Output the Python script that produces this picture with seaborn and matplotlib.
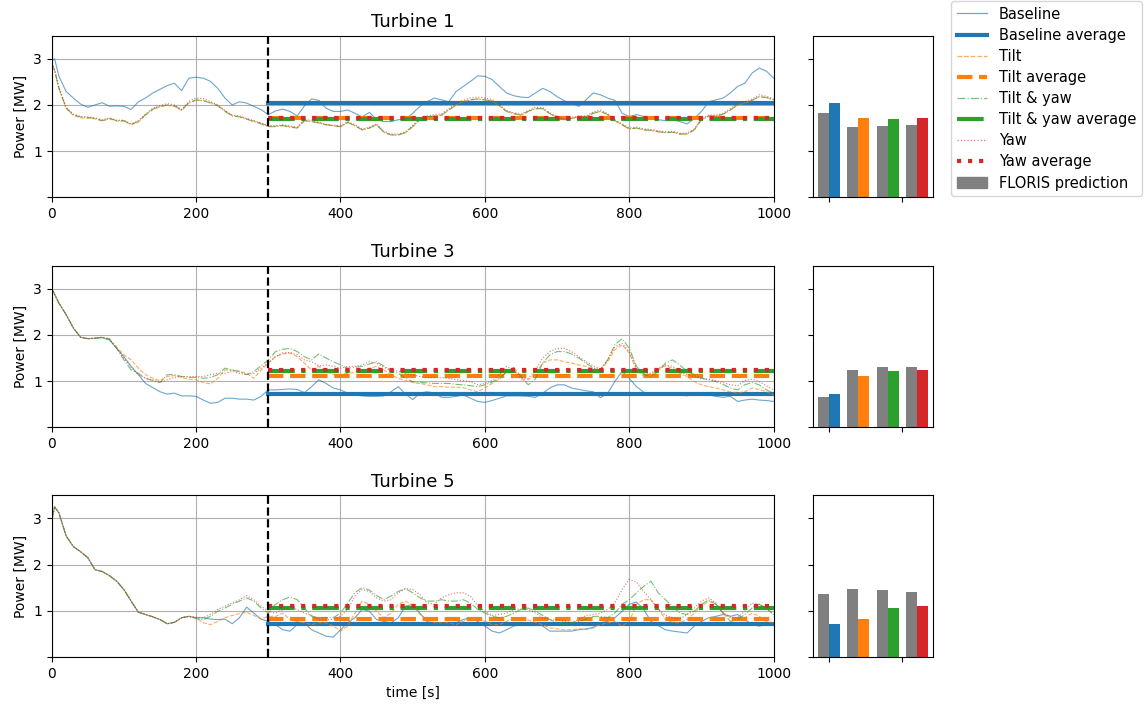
import matplotlib
matplotlib.use("Agg")
import matplotlib.pyplot as plt
import seaborn as sns
from matplotlib.lines import Line2D
from matplotlib.patches import Patch

# ---------------- data ----------------
TIME = [0, 4] + list(range(10, 1001, 10))
CONTROL_START = 300

CASES = ["Baseline", "Tilt", "Tilt & yaw", "Yaw"]
TURBINES = ["Turbine 1", "Turbine 3", "Turbine 5"]

t1_baseline = [2.95, 3.0, 2.62, 2.29, 2.15, 2.02, 1.95, 2.0, 2.05, 1.97, 1.98, 1.97,
               1.9, 2.07, 2.15, 2.26, 2.34, 2.42, 2.47, 2.31, 2.58, 2.6,
               2.58, 2.51, 2.36, 2.15, 2.0, 2.07, 2.04, 1.97, 1.9, 1.79,
               1.87, 1.91, 1.86, 1.76, 1.98, 2.13, 2.1, 1.93, 1.86, 1.86,
               1.89, 1.82, 1.74, 1.84, 1.68, 1.64, 1.64, 1.68, 1.69, 1.82,
               1.97, 2.07, 2.15, 2.11, 2.07, 2.29, 2.4, 2.51, 2.63, 2.62,
               2.55, 2.4, 2.26, 2.2, 2.17, 2.16, 2.26, 2.36, 2.29, 2.18,
               2.09, 2.04, 1.97, 2.11, 2.26, 2.22, 2.15, 2.1, 1.82, 1.75,
               1.79, 1.75, 1.71, 1.68, 1.66, 1.68, 1.64, 1.59, 1.71, 1.86,
               2.07, 2.11, 2.15, 2.26, 2.4, 2.47, 2.69, 2.8, 2.73, 2.58]
t1_tilt = [2.9, 2.75, 2.36, 1.93, 1.77, 1.72, 1.71, 1.7, 1.65, 1.7, 1.65, 1.65,
           1.57, 1.63, 1.78, 1.9, 1.96, 1.99, 1.97, 1.88, 2.04, 2.1,
           2.1, 2.05, 1.99, 1.87, 1.77, 1.75, 1.7, 1.65, 1.6, 1.54,
           1.54, 1.56, 1.53, 1.5, 1.66, 1.64, 1.61, 1.57, 1.55, 1.53,
           1.62, 1.55, 1.46, 1.5, 1.57, 1.41, 1.35, 1.35, 1.4, 1.53,
           1.68, 1.74, 1.76, 1.78, 1.89, 2.0, 2.07, 2.11, 2.13, 2.11,
           2.09, 1.98, 1.86, 1.81, 1.78, 1.86, 1.92, 1.92, 1.81, 1.73,
           1.68, 1.71, 1.74, 1.74, 1.82, 1.86, 1.79, 1.66, 1.57, 1.48,
           1.5, 1.46, 1.45, 1.42, 1.4, 1.41, 1.37, 1.37, 1.46, 1.68,
           1.76, 1.76, 1.8, 1.89, 2.0, 2.04, 2.1, 2.18, 2.16, 2.11]
t1_tiltyaw = [2.9, 2.75, 2.36, 1.93, 1.79, 1.74, 1.73, 1.71, 1.66, 1.71, 1.66, 1.66,
              1.58, 1.64, 1.79, 1.91, 1.97, 2.0, 1.98, 1.89, 2.05, 2.11,
              2.09, 2.04, 1.98, 1.86, 1.76, 1.74, 1.69, 1.64, 1.59, 1.53,
              1.53, 1.55, 1.52, 1.5, 1.66, 1.64, 1.61, 1.57, 1.55, 1.53,
              1.62, 1.55, 1.46, 1.5, 1.57, 1.41, 1.35, 1.35, 1.4, 1.53,
              1.68, 1.74, 1.76, 1.78, 1.89, 2.0, 2.07, 2.11, 2.13, 2.11,
              2.09, 1.98, 1.86, 1.81, 1.78, 1.86, 1.92, 1.92, 1.81, 1.73,
              1.68, 1.71, 1.74, 1.74, 1.82, 1.86, 1.79, 1.66, 1.57, 1.48,
              1.5, 1.46, 1.45, 1.42, 1.4, 1.41, 1.37, 1.37, 1.46, 1.68,
              1.76, 1.76, 1.8, 1.89, 2.0, 2.04, 2.1, 2.18, 2.16, 2.11]
t1_yaw = [2.9, 2.76, 2.38, 1.95, 1.8, 1.75, 1.74, 1.72, 1.68, 1.72, 1.67, 1.67,
          1.59, 1.66, 1.8, 1.93, 1.99, 2.03, 2.0, 1.9, 2.08, 2.15,
          2.14, 2.07, 2.0, 1.88, 1.78, 1.76, 1.71, 1.66, 1.61, 1.55,
          1.55, 1.57, 1.54, 1.52, 1.68, 1.67, 1.63, 1.58, 1.56, 1.55,
          1.64, 1.57, 1.48, 1.52, 1.59, 1.43, 1.37, 1.37, 1.42, 1.56,
          1.7, 1.76, 1.79, 1.81, 1.92, 2.03, 2.1, 2.15, 2.17, 2.15,
          2.12, 2.01, 1.88, 1.83, 1.8, 1.88, 1.95, 1.94, 1.83, 1.75,
          1.7, 1.73, 1.76, 1.76, 1.85, 1.89, 1.81, 1.68, 1.59, 1.5,
          1.52, 1.48, 1.47, 1.44, 1.42, 1.43, 1.39, 1.39, 1.48, 1.7,
          1.78, 1.78, 1.82, 1.92, 2.03, 2.07, 2.13, 2.22, 2.19, 2.13]

t3_baseline = [3.0, 2.88, 2.69, 2.44, 2.15, 1.95, 1.92, 1.93, 1.94, 1.89, 1.71, 1.53,
               1.32, 1.14, 0.95, 0.86, 0.77, 0.72, 0.74, 0.68, 0.68, 0.67,
               0.59, 0.52, 0.54, 0.63, 0.63, 0.61, 0.61, 0.59, 0.67, 0.81,
               0.81, 0.82, 0.83, 0.82, 0.75, 0.88, 1.03, 0.95, 0.85, 0.81,
               0.74, 0.7, 0.68, 0.67, 0.67, 0.68, 0.77, 0.88, 0.72, 0.6,
               0.74, 0.77, 0.74, 0.65, 0.65, 0.67, 0.7, 0.63, 0.56, 0.54,
               0.58, 0.63, 0.68, 0.68, 0.68, 0.67, 0.65, 0.74, 0.85, 0.92,
               0.92, 0.85, 0.82, 0.79, 0.77, 0.64, 0.74, 0.99, 1.21, 1.06,
               0.88, 0.76, 0.72, 0.7, 0.72, 0.75, 0.72, 0.68, 0.72, 0.7,
               0.7, 0.67, 0.65, 0.67, 0.56, 0.59, 0.61, 0.59, 0.58, 0.56]
t3_tilt = [3.0, 2.88, 2.69, 2.44, 2.15, 1.95, 1.92, 1.93, 1.95, 1.9, 1.74, 1.57,
           1.46, 1.28, 1.14, 1.06, 1.01, 1.1, 1.12, 1.08, 1.04, 1.03,
           0.97, 0.94, 1.06, 1.24, 1.24, 1.21, 1.17, 1.06, 1.24, 1.39,
           1.53, 1.59, 1.61, 1.53, 1.39, 1.24, 1.32, 1.21, 1.14, 1.14,
           1.17, 1.19, 1.24, 1.28, 1.32, 1.24, 1.14, 1.06, 1.01, 0.97,
           0.95, 0.92, 0.88, 0.88, 0.87, 0.87, 0.86, 0.81, 0.77, 0.85,
           0.95, 1.04, 1.2, 1.24, 1.03, 1.03, 1.17, 1.39, 1.46, 1.46,
           1.42, 1.39, 1.35, 1.32, 1.26, 1.26, 1.42, 1.68, 1.79, 1.61,
           1.24, 1.1, 1.14, 1.26, 1.33, 1.28, 1.17, 1.1, 0.99, 0.92,
           0.88, 0.85, 0.81, 0.77, 0.74, 0.77, 0.85, 0.82, 0.77, 0.7]
t3_tiltyaw = [3.0, 2.88, 2.69, 2.44, 2.15, 1.95, 1.92, 1.93, 1.95, 1.92, 1.71, 1.46,
              1.24, 1.17, 1.06, 1.01, 0.97, 1.14, 1.14, 1.1, 1.08, 1.08,
              1.06, 1.08, 1.14, 1.28, 1.24, 1.21, 1.14, 1.21, 1.33, 1.46,
              1.64, 1.69, 1.71, 1.64, 1.53, 1.46, 1.59, 1.5, 1.42, 1.35,
              1.28, 1.3, 1.32, 1.37, 1.42, 1.33, 1.22, 1.17, 1.06, 0.99,
              0.97, 0.96, 0.95, 0.95, 0.95, 0.93, 0.92, 0.9, 0.88, 0.92,
              0.98, 1.06, 1.2, 1.3, 1.1, 0.92, 1.05, 1.39, 1.57, 1.64,
              1.64, 1.59, 1.5, 1.39, 1.28, 1.24, 1.46, 1.79, 1.92, 1.71,
              1.32, 1.14, 1.1, 1.21, 1.39, 1.46, 1.35, 1.21, 1.14, 1.06,
              1.03, 0.99, 0.93, 0.85, 0.81, 0.92, 0.97, 0.92, 0.81, 0.74]
t3_yaw = [3.0, 2.88, 2.69, 2.44, 2.15, 1.95, 1.92, 1.93, 1.95, 1.91, 1.71, 1.5,
          1.3, 1.14, 1.06, 1.03, 0.97, 1.03, 1.08, 1.1, 1.1, 1.1,
          1.1, 1.14, 1.17, 1.17, 1.21, 1.17, 1.14, 1.17, 1.28, 1.39,
          1.53, 1.61, 1.62, 1.57, 1.46, 1.42, 1.33, 1.35, 1.32, 1.28,
          1.32, 1.32, 1.35, 1.42, 1.39, 1.3, 1.24, 1.21, 1.17, 1.14,
          1.1, 1.08, 1.08, 1.08, 1.06, 1.03, 1.01, 0.99, 0.92, 0.95,
          1.01, 1.14, 1.32, 1.24, 1.06, 1.06, 1.24, 1.5, 1.64, 1.71,
          1.71, 1.64, 1.53, 1.42, 1.33, 1.26, 1.46, 1.74, 1.82, 1.64,
          1.28, 1.17, 1.17, 1.28, 1.35, 1.32, 1.21, 1.14, 1.1, 1.06,
          1.04, 1.01, 0.97, 0.92, 0.9, 1.01, 1.04, 0.99, 0.9, 0.81]

t5_baseline = [2.95, 3.25, 3.12, 2.62, 2.39, 2.28, 2.15, 1.89, 1.85, 1.76, 1.64, 1.46,
               1.21, 0.97, 0.92, 0.87, 0.81, 0.72, 0.75, 0.85, 0.88, 0.85,
               0.85, 0.82, 0.81, 0.82, 0.72, 0.85, 1.08, 0.95, 0.82, 0.77,
               0.7, 0.59, 0.56, 0.7, 0.74, 0.59, 0.52, 0.45, 0.43, 0.59,
               0.74, 0.85, 1.03, 0.99, 0.81, 0.77, 0.74, 0.85, 1.1, 1.14,
               0.95, 0.77, 0.7, 0.7, 0.68, 0.74, 0.81, 0.85, 0.77, 0.67,
               0.56, 0.52, 0.59, 0.67, 0.7, 0.72, 0.74, 0.67, 0.56, 0.56,
               0.56, 0.56, 0.59, 0.61, 0.63, 0.74, 0.77, 0.85, 0.99, 1.14,
               1.19, 1.03, 0.77, 0.68, 0.59, 0.56, 0.54, 0.52, 0.67, 0.77,
               0.85, 0.88, 0.92, 0.88, 0.92, 0.81, 0.7, 0.67, 0.7, 0.7]
t5_tilt = [2.95, 3.25, 3.12, 2.62, 2.39, 2.28, 2.15, 1.89, 1.85, 1.76, 1.64, 1.46,
           1.21, 0.97, 0.92, 0.87, 0.81, 0.72, 0.75, 0.85, 0.88, 0.85,
           0.74, 0.7, 0.77, 0.85, 0.9, 0.94, 0.97, 0.9, 0.82, 0.88,
           0.88, 0.95, 0.81, 0.77, 0.74, 0.7, 0.74, 0.74, 0.67, 0.56,
           0.67, 0.95, 1.21, 1.14, 0.99, 0.85, 0.95, 1.14, 1.21, 1.12,
           0.92, 0.81, 0.74, 0.74, 0.74, 0.7, 0.77, 0.85, 0.85, 0.77,
           0.7, 0.7, 0.77, 0.85, 0.85, 0.8, 0.75, 0.7, 0.63, 0.61,
           0.59, 0.59, 0.61, 0.59, 0.65, 0.7, 0.74, 0.77, 0.67, 0.77,
           1.14, 1.24, 1.24, 1.06, 0.81, 0.75, 0.74, 0.81, 0.95, 1.1,
           1.21, 1.14, 0.95, 0.88, 0.81, 0.85, 0.95, 0.88, 0.77, 0.74]
t5_tiltyaw = [2.95, 3.25, 3.12, 2.62, 2.39, 2.28, 2.15, 1.89, 1.85, 1.76, 1.64, 1.46,
              1.21, 0.97, 0.92, 0.87, 0.81, 0.72, 0.75, 0.85, 0.88, 0.83,
              0.81, 0.88, 0.99, 1.06, 1.14, 1.21, 1.28, 1.21, 1.06, 0.95,
              1.14, 1.24, 1.3, 1.24, 1.06, 0.88, 0.85, 0.85, 0.85, 0.95,
              1.17, 1.39, 1.5, 1.45, 1.33, 1.24, 1.32, 1.42, 1.48, 1.39,
              1.28, 1.21, 1.21, 1.24, 1.21, 1.21, 1.24, 1.17, 1.03, 0.95,
              0.88, 0.85, 0.88, 0.95, 1.03, 1.06, 0.99, 0.9, 0.81, 0.74,
              0.7, 0.74, 0.77, 0.82, 0.88, 0.88, 0.85, 0.95, 1.14, 1.24,
              1.39, 1.53, 1.64, 1.39, 1.24, 1.1, 0.95, 0.92, 0.99, 1.14,
              1.24, 1.14, 0.95, 0.77, 0.81, 0.92, 1.06, 1.14, 1.06, 0.92]
t5_yaw = [2.95, 3.25, 3.12, 2.62, 2.39, 2.28, 2.15, 1.89, 1.85, 1.76, 1.64, 1.46,
          1.21, 0.97, 0.92, 0.87, 0.81, 0.72, 0.75, 0.85, 0.88, 0.86,
          0.85, 0.92, 1.03, 1.1, 1.17, 1.24, 1.33, 1.24, 1.1, 0.99,
          0.95, 1.03, 1.08, 1.03, 0.95, 0.9, 0.81, 0.8, 0.82, 0.88,
          1.03, 1.32, 1.46, 1.42, 1.28, 1.21, 1.24, 1.39, 1.48, 1.46,
          1.35, 1.17, 1.14, 1.28, 1.35, 1.39, 1.39, 1.32, 1.1, 0.99,
          0.9, 0.92, 0.95, 1.03, 1.04, 1.03, 0.95, 0.85, 0.8, 0.81,
          0.77, 0.75, 0.81, 0.9, 0.92, 0.95, 1.03, 1.17, 1.46, 1.68,
          1.62, 1.42, 1.24, 1.03, 0.9, 0.85, 0.82, 0.92, 1.06, 1.21,
          1.28, 1.17, 0.95, 0.85, 0.85, 0.99, 1.17, 1.14, 1.03, 0.92]

SERIES = {
    "Turbine 1": [t1_baseline, t1_tilt, t1_tiltyaw, t1_yaw],
    "Turbine 3": [t3_baseline, t3_tilt, t3_tiltyaw, t3_yaw],
    "Turbine 5": [t5_baseline, t5_tilt, t5_tiltyaw, t5_yaw],
}

# mean power after control start (SOWFA)
avg_t1 = [2.05, 1.71, 1.70, 1.72]
avg_t3 = [0.72, 1.115, 1.225, 1.245]
avg_t5 = [0.717, 0.826, 1.065, 1.11]
AVERAGES = {"Turbine 1": avg_t1, "Turbine 3": avg_t3, "Turbine 5": avg_t5}

# FLORIS predictions
floris_t1 = [1.83, 1.53, 1.55, 1.57]
floris_t3 = [0.66, 1.245, 1.31, 1.31]
floris_t5 = [1.37, 1.48, 1.46, 1.41]
FLORIS = {"Turbine 1": floris_t1, "Turbine 3": floris_t3, "Turbine 5": floris_t5}

# ---------------- style ----------------
COLORS = sns.color_palette("tab10")[:4]
LINESTYLES = ["-", "--", "-.", ":"]
FLORIS_COLOR = "gray"

fig = plt.figure(figsize=(11.44, 7.06), dpi=100)
W, H = 1144, 706

rows = [(35.7, 197.3), (265.7, 427.3), (495.3, 657.0)]
left_x0, left_x1 = 51.7, 773.7
right_x0, right_x1 = 812.7, 933.3

for r, turb in enumerate(TURBINES):
    top, bot = rows[r]
    ax = fig.add_axes([left_x0 / W, 1 - bot / H, (left_x1 - left_x0) / W, (bot - top) / H])
    axb = fig.add_axes([right_x0 / W, 1 - bot / H, (right_x1 - right_x0) / W, (bot - top) / H],
                       sharey=ax)
    for i, case in enumerate(CASES):
        sns.lineplot(x=TIME, y=SERIES[turb][i], ax=ax, color=COLORS[i],
                     linestyle=LINESTYLES[i], lw=0.8, alpha=0.65)
        sns.lineplot(x=[CONTROL_START, TIME[-1]], y=[AVERAGES[turb][i]] * 2, ax=ax,
                     color=COLORS[i], linestyle=LINESTYLES[i], lw=3)
    ax.axvline(CONTROL_START, color="k", ls="--", lw=1.6)
    ax.set_xlim(0, 1000)
    ax.set_ylim(0, 3.5)
    ax.set_yticks([0, 1, 2, 3])
    ax.set_yticklabels(["", "1", "2", "3"])
    ax.set_xticks([0, 200, 400, 600, 800, 1000])
    ax.grid(True, color="#b0b0b0", lw=0.8)
    ax.set_axisbelow(True)
    ax.set_ylabel("Power [MW]")
    ax.set_title(turb, fontsize=13)
    if r == 2:
        ax.set_xlabel("time [s]")

    # bar panel
    for i in range(4):
        xpos = 2 * i
        axb.bar(xpos - 0.375, FLORIS[turb][i], width=0.75, color=FLORIS_COLOR)
        axb.bar(xpos + 0.375, AVERAGES[turb][i], width=0.75, color=COLORS[i])
    axb.set_xticks([0, 5])
    axb.tick_params(labelleft=False, labelbottom=False)
    axb.set_ylim(0, 3.5)

handles = []
labels = []
for i, case in enumerate(CASES):
    handles.append(Line2D([], [], color=COLORS[i], linestyle=LINESTYLES[i], lw=0.9, alpha=0.65))
    labels.append(case)
    handles.append(Line2D([], [], color=COLORS[i], linestyle=LINESTYLES[i], lw=3))
    labels.append(case + " average")
handles.append(Patch(color=FLORIS_COLOR))
labels.append("FLORIS prediction")
fig.legend(handles, labels, loc="upper left", bbox_to_anchor=(951 / W, 0.999),
           borderaxespad=0, fontsize=10.5, labelspacing=0.42, handlelength=2.1)

fig.savefig("out.png", dpi=100)
